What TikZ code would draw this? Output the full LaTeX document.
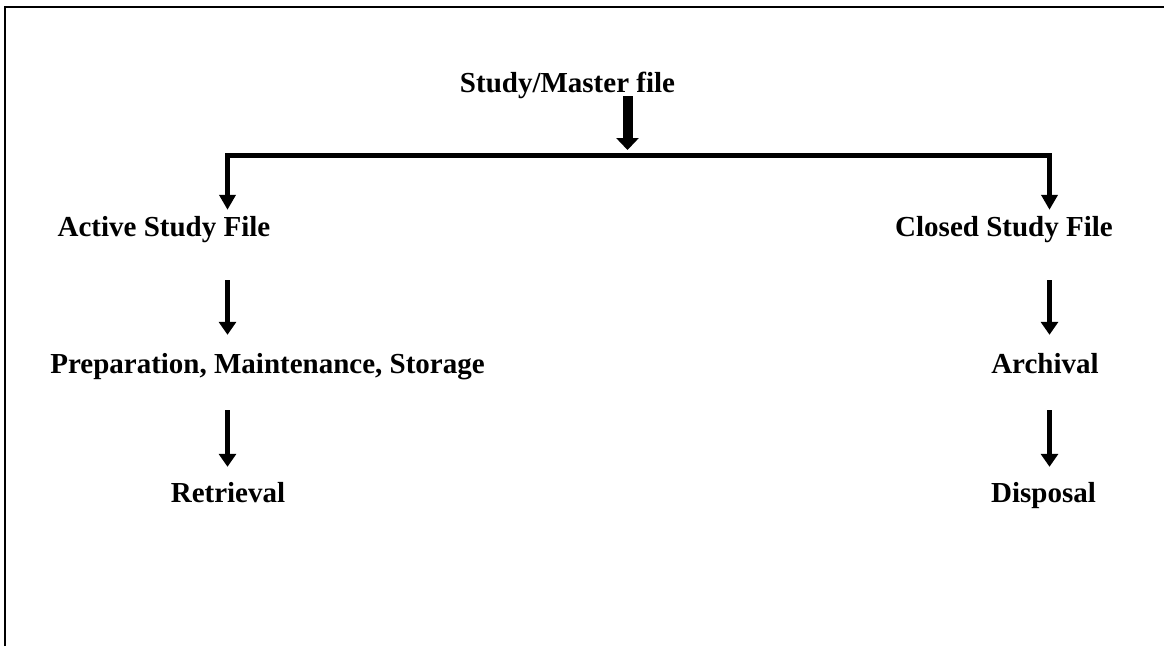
\documentclass[tikz,border=0pt]{standalone}
\usepackage{fontspec}
\setmainfont{Liberation Serif}
\usetikzlibrary{arrows.meta}
\begin{document}
\begin{tikzpicture}[x=1pt,y=1pt,
  lbl/.style={font=\fontsize{29}{34}\selectfont\bfseries, inner sep=0pt,
              text height=20pt, text depth=6pt, anchor=base},
  stepar/.style={line width=4.5pt, -{Triangle[length=13pt,width=17pt]}},
  mainar/.style={line width=10pt, -{Triangle[length=12pt,width=22pt]}},
  branch/.style={line width=5pt, line join=miter, -{Triangle[length=15pt,width=16pt]}},
  frame/.style={line width=2pt, line join=miter}]
\useasboundingbox (0,0) rectangle (1164,-646);
% open frame: left and top edges
\draw[frame] (5,-646) -- (5,-7) -- (1164,-7);

% labels
\node[lbl] (top)  at (567.5,-92)  {Study/Master file};
\node[lbl] (act)  at (164,-236)   {Active Study File};
\node[lbl] (cls)  at (1004,-236)  {Closed Study File};
\node[lbl] (prep) at (267.5,-373) {Preparation, Maintenance, Storage};
\node[lbl] (arch) at (1045,-373)  {Archival};
\node[lbl] (ret)  at (228,-502)   {Retrieval};
\node[lbl] (disp) at (1043.5,-502) {Disposal};

% column positions and split point
\coordinate (colL)  at (227.5,0);
\coordinate (colR)  at (1049.5,0);
\coordinate (split) at (627.5,-155.5);

% main arrow and branches
\draw[mainar, shorten <=-2pt, shorten >=5.5pt] (top.south -| split) -- (split);
\draw[branch, shorten >=6pt] (split) -| (colL |- act.north);
\draw[branch, shorten >=6pt] (split) -| (colR |- cls.north);

% left column
\draw[stepar, shorten <=38pt, shorten >=18pt] (colL |- act.south) -- (colL |- prep.north);
\draw[stepar, shorten <=31pt, shorten >=15pt] (colL |- prep.south) -- (colL |- ret.north);

% right column
\draw[stepar, shorten <=38pt, shorten >=18pt] (colR |- cls.south) -- (colR |- arch.north);
\draw[stepar, shorten <=31pt, shorten >=15pt] (colR |- arch.south) -- (colR |- disp.north);
\end{tikzpicture}
\end{document}
